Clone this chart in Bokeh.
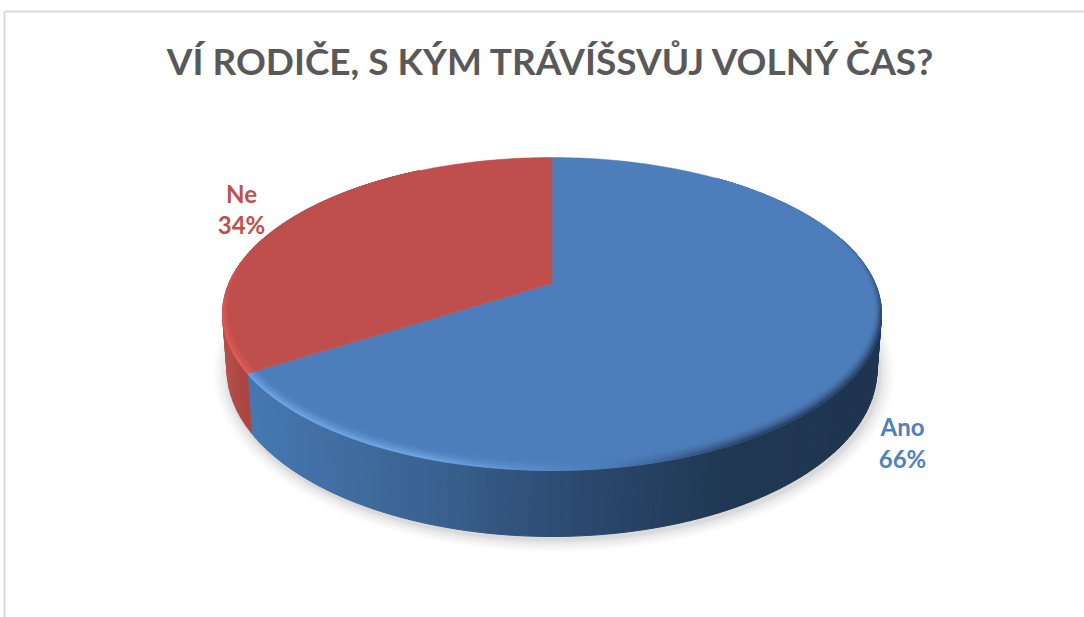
import numpy as np
from bokeh.plotting import figure
from bokeh.models import Range1d
from bokeh.core.properties import value
from bokeh.embed import file_html
from bokeh.resources import INLINE

TITLE = "VÍ RODIČE, S KÝM TRÁVÍŠSVŮJ VOLNÝ ČAS?"
categories = ["Ano", "Ne"]
shares = [66, 34]
labels = ["66%", "34%"]
face_colors = ["#4d7ebb", "#bf4f4c"]

W, H = 1084, 617
p = figure(width=W, height=H, output_backend="svg", toolbar_location=None,
           x_range=Range1d(0, W), y_range=Range1d(H, 0),
           min_border=0, background_fill_color="white", border_fill_color="white")
p.axis.visible = False
p.grid.visible = False
p.outline_line_color = None

CX, TOP_CY, TOP_RX, TOP_RY = 551.5, 313.5, 329.5, 156.5
BOT_CY, BOT_RX, BOT_RY = 369.0, 325.0, 167.0
APEX_Y = 283.0
A = (APEX_Y - TOP_CY) / TOP_RY


def hexrgb(h):
    return np.array([int(h[i:i + 2], 16) for i in (1, 3, 5)], float)


def tohex(c):
    c = np.clip(np.round(c), 0, 255).astype(int)
    return "#%02x%02x%02x" % tuple(c)


def mix(a, b, f):
    return a + (b - a) * f


def rim(frac):
    t = 2 * np.pi * np.asarray(frac)
    u, v = np.sin(t), -np.cos(t)
    d = 1 + A * v
    return (v + A) / d, u * np.sqrt(1 - A * A) / d


def top_xy(frac):
    v, u = rim(frac)
    return CX + u * TOP_RX, TOP_CY + v * TOP_RY


def bot_xy(frac):
    v, u = rim(frac)
    return CX + u * BOT_RX, BOT_CY + v * BOT_RY


total = sum(shares)
f_ano = shares[0] / total

# soft shadow below the pie
for grow, alpha in [(16, .02), (13, .03), (10, .035), (7, .04), (4, .05), (2, .05)]:
    p.ellipse([CX + 2], [BOT_CY + 3], width=2 * (BOT_RX + grow), height=2 * (BOT_RY + grow * .8),
              fill_color="#505050", fill_alpha=alpha, line_color=None)

blue_stops = [(255, "#4577b0"), (330, "#416ea3"), (430, "#3a6291"), (520, "#30527b"),
              (620, "#284467"), (720, "#203853"), (880, "#1f344e")]
red_stops = [(222, "#b5504c"), (240, "#aa4541"), (260, "#b0443f")]


def shade(stops, x):
    xs = [s[0] for s in stops]
    rgb = np.array([hexrgb(s[1]) for s in stops])
    return tohex(np.array([np.interp(x, xs, rgb[:, i]) for i in range(3)]))


def strip(frac_a, frac_b, stops, n):
    fr = np.linspace(frac_a, frac_b, n + 1)
    xs, ys, cs = [], [], []
    for a, b in zip(fr[:-1], fr[1:]):
        x1, y1 = top_xy(a); x2, y2 = top_xy(b)
        x3, y3 = bot_xy(b); x4, y4 = bot_xy(a)
        xs.append([x1, x2, x3, x4]); ys.append([y1, y2, y3, y4])
        cs.append(shade(stops, (x1 + x2) / 2))
    p.patches(xs, ys, fill_color=cs, line_color=cs, line_width=1)


strip(.20, f_ano, blue_stops, 110)
strip(f_ano, .80, red_stops, 20)

fr_blue = np.linspace(0, f_ano, 240)
fr_red = np.linspace(f_ano, 1, 120)
for fr, col in [(fr_blue, face_colors[0]), (fr_red, face_colors[1])]:
    x, y = top_xy(fr)
    p.patch(np.r_[CX, x], np.r_[APEX_Y, y], fill_color=col, line_color=col, line_width=.5)

RINGS = 6


def bevel(frac, ring):
    x, y = top_xy(frac)
    dy = (y - TOP_CY) / TOP_RY
    lam = (.024 + .04 * max(dy, 0) + .024 * min(dy, 0)) * ring / RINGS
    return x + (CX - x) * lam, y + (APEX_Y - y) * lam


def bevel_color(frac, k, base, hi, lo):
    x, y = top_xy(frac)
    dx = (x - CX) / TOP_RX
    dy = (y - TOP_CY) / TOP_RY
    s = np.clip((dy + .55) / .6, 0, 1)
    light = np.clip((.15 - dx) / .55, 0, 1)
    dark = np.clip((dx - .15) / .45, 0, 1)
    w = (1 - k) ** 1.6 * s
    c = mix(base, hi, w * light)
    c = mix(c, lo, w * dark)
    return tohex(c)


for (fa, fb, base, hi, lo, n) in [
    (0.10, f_ano, face_colors[0], "#74abeb", "#24395a", 150),
    (f_ano, .92, face_colors[1], "#e55e5a", "#24395a", 60),
]:
    fr = np.linspace(fa, fb, n + 1)
    xs, ys, cs = [], [], []
    for r in range(RINGS):
        for a, b in zip(fr[:-1], fr[1:]):
            x1, y1 = bevel(a, r); x2, y2 = bevel(b, r)
            x3, y3 = bevel(b, r + 1); x4, y4 = bevel(a, r + 1)
            xs.append([x1, x2, x3, x4]); ys.append([y1, y2, y3, y4])
            cs.append(bevel_color((a + b) / 2, (r + .5) / RINGS, hexrgb(base), hexrgb(hi), hexrgb(lo)))
    p.patches(xs, ys, fill_color=cs, line_color=cs, line_width=.6)

# frame of the chart area
p.segment([4, 4], [11, 11], [1084, 4], [11, 617], line_color="#d9d9d9", line_width=2)

font = value("Lato")
p.text([551.5], [60], text=[TITLE], text_font=font, text_font_size="37px", text_font_style="bold",
       text_color="#595959", text_align="center", text_baseline="middle")
p.text([902, 902], [426, 458], text=[categories[0], labels[0]], text_font=font, text_font_size="24px",
       text_font_style="bold", text_color="#4f81bd", text_align="center", text_baseline="middle")
p.text([241, 241], [193, 224], text=[categories[1], labels[1]], text_font=font, text_font_size="24px",
       text_font_style="bold", text_color="#c0504d", text_align="center", text_baseline="middle")

open("out.html", "w").write(file_html(p, INLINE))
